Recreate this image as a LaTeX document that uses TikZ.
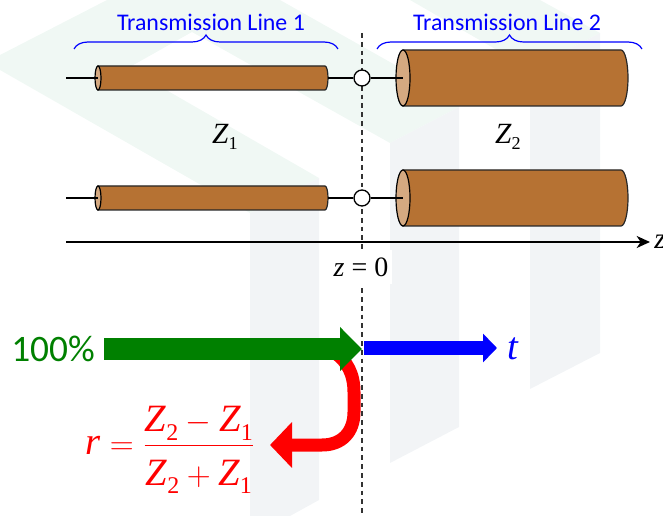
\documentclass[tikz,border=0pt]{standalone}
\usepackage{amsmath}
\usepackage{fontspec}
\setmainfont{Liberation Serif}
\newfontfamily\labelfont{Carlito}
\usetikzlibrary{arrows.meta,decorations.pathreplacing}
\definecolor{cuivre}{HTML}{B67233}
\definecolor{cuivreclair}{HTML}{D4A981}
\definecolor{fondvert}{HTML}{F0F8F4}
\definecolor{fondgris}{HTML}{F2F4F6}
\definecolor{traitille}{HTML}{333333}
\tikzset{
  fil/.style={black,line width=1.5pt},
  jonction/.style={circle,draw=black,fill=white,line width=1pt,minimum size=12pt,inner sep=0pt},
  accolade/.style={blue,line width=0.9pt,decorate,decoration={brace,amplitude=10.5pt}},
  titre/.style={blue,font=\labelfont\fontsize{17.9}{20}\selectfont,inner sep=0pt},
  impedance/.style={font=\fontsize{22}{24}\selectfont,inner sep=0pt},
}
\newcommand{\Zk}[1]{\textit{Z}\raisebox{-0.22em}{\scalebox{0.62}{#1}}}
\begin{document}
\begin{tikzpicture}[x=0.75pt,y=-0.75pt]
\useasboundingbox (0,0) rectangle (663,516);
% \cable{nom}{x gauche}{x droit}{y}{demi-hauteur}{demi-largeur du capot}
\newcommand{\cable}[6]{%
\draw[fill=cuivre,draw=black!85,line width=0.9pt] (#2,#4-#5) -- (#3-#6,#4-#5) arc[start angle=90,end angle=-90,x radius={#6*0.75pt},y radius={#5*0.75pt}] -- (#2,#4+#5) -- cycle;
\draw[fill=cuivreclair,draw=black,line width=0.9pt] (#2,#4) ellipse ({#6*0.75pt} and {#5*0.75pt});
\coordinate (#1g) at (#2,#4);
\coordinate (#1d) at (#3,#4);
}
\fill[fondvert] (107,0) -- (280,0) -- (459,101) -- (459,107) -- (390,143) -- (192,32) -- (128,68) -- (319,178) -- (250,213) -- (0,70) -- (0,55) -- cycle;%chevron
\fill[fondvert] (410,0) -- (540,0) -- (600,33) -- (530,69) -- cycle;%bande droite
\fill[fondgris] (250,213) -- (319,178) -- (319,500) -- (290,516) -- (250,516) -- cycle;%barre 1
\fill[fondgris] (390,143) -- (459,107) -- (459,427) -- (390,463) -- cycle;%barre 2
\fill[fondgris] (530,69) -- (600,33) -- (600,353) -- (530,389) -- cycle;%barre 3
\coordinate (plantop) at (362,33);
\coordinate (planbas) at (362,516);
\draw[traitille,line width=0.9pt,dash pattern=on 3.6pt off 3pt] (plantop) -- (planbas);%plan z=0
\node[fill=white,minimum width=46pt,minimum height=25pt,inner sep=0pt,font=\fontsize{21}{24}\selectfont] (zzero) at (361,267) {\textit{z} = 0};
\cable{hauta}{98}{328}{78}{12}{3}%ligne 1 haut
\cable{hautb}{403}{628}{78}{28}{7}%ligne 2 haut
\cable{basa}{98}{328}{198}{12}{3}%ligne 1 bas
\cable{basb}{403}{628}{198}{28}{7}%ligne 2 bas
\node[jonction] (jhaut) at (362,78) {};
\node[jonction] (jbas) at (362,198) {};
\coordinate (hautfil) at (66,78);
\coordinate (basfil) at (66,198);
\draw[fil] (hautfil) -- (hautag);
\draw[fil] (hautad) -- (jhaut) -- (hautbg);
\draw[fil] (basfil) -- (basag);
\draw[fil] (basad) -- (jbas) -- (basbg);
\coordinate (axeg) at (66,242);
\coordinate (axed) at (650,242);
\draw[fil,-{Stealth[length=10pt,width=9pt,inset=3pt]}] (axeg) -- (axed);
\node[anchor=west,impedance] (axez) at (654,242) {\textit{z}};
\coordinate (accaa) at (74,49);
\coordinate (accab) at (338,49);
\coordinate (accba) at (377,49);
\coordinate (accbb) at (642,49);
\draw[accolade] (accaa) -- (accab);
\draw[accolade] (accba) -- (accbb);
\node[titre] (ligneun) at (211,22) {Transmission Line 1};
\node[titre] (lignedeux) at (507,22) {Transmission Line 2};
\node[impedance] (zun) at (225,137) {\Zk{1}};
\node[impedance] (zdeux) at (508,137) {\Zk{2}};
\coordinate (rdebut) at (335,353);
\coordinate (rfin) at (270,445);
\draw[red,line width=9.75pt,-{Triangle[length=16.5pt,width=33.5pt]}] (rdebut) .. controls (347,361) and (354,374) .. (354,392) -- (354,412) .. controls (354,432) and (342,445) .. (322,445) -- (rfin);%reflexion
\coordinate (vdebut) at (104,349);
\coordinate (vfin) at (362,349);
\draw[green!50!black,line width=16pt,-{Triangle[length=16.5pt,width=32pt]}] (vdebut) -- (vfin);%incident
\coordinate (bdebut) at (364,348);
\coordinate (bfin) at (497,348);
\draw[blue,line width=10pt,-{Triangle[length=10.5pt,width=21pt]}] (bdebut) -- (bfin);%transmis
\node[green!50!black,font=\labelfont\fontsize{28}{30}\selectfont,inner sep=0pt] (cent) at (53,349) {100\%};
\node[blue,font=\fontsize{29}{32}\selectfont,inner sep=0pt] (lt) at (513,349) {\textit{t}};
\node[red,font=\fontsize{29}{32}\selectfont,inner sep=0pt,anchor=center] (lr) at (170,450) {$\text{\textit{r}} = \dfrac{\text{\Zk{2}} - \text{\Zk{1}}}{\rule{0pt}{26pt}\text{\Zk{2}} + \text{\Zk{1}}}$};
\end{tikzpicture}
\end{document}
